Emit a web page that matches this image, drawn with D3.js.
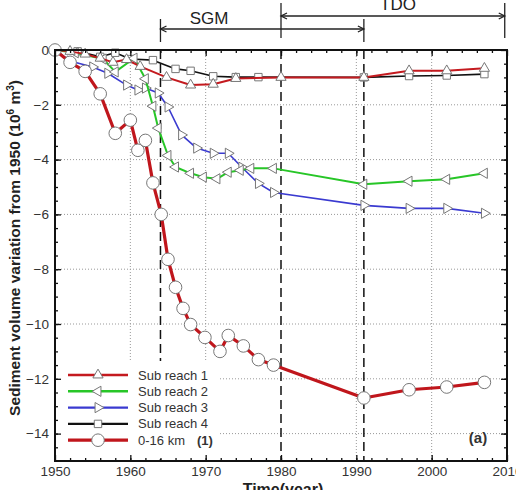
<!DOCTYPE html>
<html>
<head>
<meta charset="utf-8">
<script src="https://cdn.jsdelivr.net/npm/d3@7"></script>
<style>
  body { margin: 0; background: #fff; }
  svg { font-family: "Liberation Sans", Arial, sans-serif; }
</style>
</head>
<body>
<div id="chart"></div>
<script>
// data: [year, volume change (10^6 m3)]
const subReach1 = [[1950,0],[1952,-0.05],[1954,-0.15],[1956,-0.3],[1957.7,-0.45],[1959.5,-0.35],[1961.3,-0.6],[1964.8,-1.0],[1968,-1.28],[1971,-1.25],[1974,-1.04],[1980,-1.0],[1991,-1.0],[1997,-0.76],[2002,-0.76],[2007,-0.67]];
const subReach2 = [[1950,0],[1952.7,-0.1],[1956.4,-0.33],[1958,-0.8],[1960.5,-0.3],[1962,-1.05],[1963,-2.05],[1963.7,-2.85],[1965,-3.85],[1966,-4.27],[1968,-4.5],[1969.7,-4.64],[1971.5,-4.7],[1973,-4.46],[1974.6,-4.39],[1976,-4.32],[1979,-4.32],[1991,-4.9],[1997,-4.79],[2002,-4.72],[2007,-4.5]];
const subReach3 = [[1950,0],[1952,-0.4],[1955,-0.62],[1957,-0.85],[1959.5,-1.28],[1961,-1.46],[1962,-1.39],[1963.7,-1.57],[1965,-2.08],[1966.8,-3.1],[1968.8,-3.58],[1971,-3.77],[1973,-3.77],[1974.8,-4.28],[1977,-4.87],[1979,-5.2],[1991,-5.67],[1997,-5.78],[2002,-5.78],[2007,-5.96]];
const subReach4 = [[1950,0],[1953,-0.05],[1956,-0.25],[1958,-0.1],[1960,-0.33],[1963,-0.37],[1966,-0.69],[1968,-0.76],[1971,-0.96],[1974,-0.99],[1977,-0.99],[1991,-1.0],[1997,-0.95],[2002,-0.93],[2007,-0.88]];
const km0to16 = [[1950,0],[1952,-0.45],[1954,-0.78],[1956,-1.6],[1958,-3.04],[1960,-2.56],[1961,-3.66],[1962,-3.3],[1963,-4.85],[1964.1,-6.0],[1965,-7.64],[1966,-8.66],[1967,-9.43],[1968,-10.02],[1969.9,-10.49],[1971.9,-11.0],[1973,-10.42],[1975,-10.8],[1977,-11.3],[1979,-11.5],[1991,-12.7],[1997,-12.4],[2002,-12.3],[2007,-12.13]];

const seriesNames = ["Sub reach 1", "Sub reach 2", "Sub reach 3", "Sub reach 4", "0-16 km"];
const xTicks = [1950, 1960, 1970, 1980, 1990, 2000, 2010];
const yTicks = [0, -2, -4, -6, -8, -10, -12, -14];
const periodLines = [1964, 1980, 1991];

const margin = { top: 50, left: 55, right: 9, bottom: 29 };
const width = 516, height = 490;

const svg = d3.select("#chart").append("svg")
  .attr("width", width).attr("height", height);

const x = d3.scaleLinear().domain([1950, 2010]).range([margin.left, width - margin.right]);
const y = d3.scaleLinear().domain([-15, 0]).range([height - margin.bottom, margin.top]);

// gridlines (dotted)
const grid = svg.append("g");
grid.selectAll("line.gx")
  .data(xTicks.filter(d => d > 1950 && d < 2010 && d !== 1980))
  .join("line")
  .attr("x1", d => x(d)).attr("x2", d => x(d))
  .attr("y1", y(0)).attr("y2", y(-15))
  .attr("stroke", "#999").attr("stroke-dasharray", "1,2");
grid.selectAll("line.gy")
  .data(yTicks.filter(d => d < 0))
  .join("line")
  .attr("x1", x(1950)).attr("x2", x(2010))
  .attr("y1", d => y(d)).attr("y2", d => y(d))
  .attr("stroke", "#999").attr("stroke-dasharray", "1,2");

// dashed period lines
svg.selectAll("line.period")
  .data(periodLines)
  .join("line")
  .attr("x1", d => x(d)).attr("x2", d => x(d))
  .attr("y1", y(0)).attr("y2", y(-15))
  .attr("stroke", "#111").attr("stroke-width", 1.5)
  .attr("stroke-dasharray", "9,5");

// SGM / TDO annotations
const ann = svg.append("g").attr("stroke", "#222").attr("stroke-width", 1.3);
function span(x1, x2, yy, top, bot) {
  ann.append("line").attr("x1", x1).attr("x2", x2).attr("y1", yy).attr("y2", yy);
  ann.append("line").attr("x1", x1).attr("x2", x1).attr("y1", top).attr("y2", bot);
  ann.append("line").attr("x1", x2).attr("x2", x2).attr("y1", top).attr("y2", bot);
  ann.append("path").attr("d", `M${x1 + 6},${yy - 3} L${x1},${yy} L${x1 + 6},${yy + 3}`).attr("fill", "none");
  ann.append("path").attr("d", `M${x2 - 6},${yy - 3} L${x2},${yy} L${x2 - 6},${yy + 3}`).attr("fill", "none");
}
span(x(1964), x(1991), 29, 19, 42);
span(x(1980), x(2009.7), 16, 3, 38);
svg.append("text").attr("x", 209).attr("y", 24)
  .attr("text-anchor", "middle").attr("font-size", 17).attr("fill", "#222").text("SGM");
svg.append("text").attr("x", 398).attr("y", 10)
  .attr("text-anchor", "middle").attr("font-size", 17).attr("fill", "#222").text("TDO");

// series
const styles = [
  { data: subReach1, color: "#c41a1f", w: 2, sym: "up" },
  { data: subReach2, color: "#27c627", w: 2, sym: "left" },
  { data: subReach3, color: "#3a3ad0", w: 1.6, sym: "right" },
  { data: subReach4, color: "#111", w: 1.6, sym: "square" },
  { data: km0to16, color: "#c0161c", w: 3.2, sym: "circle" }
];

function marker(g, sym) {
  if (sym === "circle") {
    return g.append("circle").attr("r", 6.3);
  }
  if (sym === "square") {
    return g.append("path").attr("d", d3.symbol(d3.symbolSquare, 55)());
  }
  const rot = sym === "up" ? 0 : sym === "left" ? -90 : 90;
  return g.append("path").attr("d", d3.symbol(d3.symbolTriangle, 45)())
    .attr("transform", `rotate(${rot})`);
}

const line = d3.line().x(d => x(d[0])).y(d => y(d[1]));
const drawOrder = [3, 2, 1, 0, 4];
drawOrder.forEach(i => {
  const s = styles[i];
  svg.append("path").datum(s.data)
    .attr("d", line).attr("fill", "none")
    .attr("stroke", s.color).attr("stroke-width", s.w)
    .attr("stroke-linejoin", "round");
  svg.append("g").selectAll("g")
    .data(s.data)
    .join("g")
    .attr("transform", d => `translate(${x(d[0])},${y(d[1])})`)
    .each(function () {
      marker(d3.select(this), s.sym)
        .attr("fill", "#fff").attr("stroke", "#777").attr("stroke-width", 1);
    });
});

// legend
const legend = svg.append("g");
legend.append("rect").attr("x", 57).attr("y", 361).attr("width", 161).attr("height", 98).attr("fill", "#fff");
seriesNames.forEach((name, i) => {
  const s = styles[i];
  const ly = 375 + i * 16.3;
  legend.append("line").attr("x1", 68).attr("x2", 128).attr("y1", ly).attr("y2", ly)
    .attr("stroke", s.color).attr("stroke-width", i === 4 ? 3.2 : s.w + 0.6);
  const g = legend.append("g").attr("transform", `translate(98,${ly})`);
  marker(g, s.sym).attr("fill", "#fff").attr("stroke", "#777").attr("stroke-width", 1);
  legend.append("text").attr("x", 138).attr("y", ly + 4.5)
    .attr("font-size", 13).attr("fill", "#333").text(name);
});
legend.append("text").attr("x", 197).attr("y", 444.5).attr("font-size", 13)
  .attr("font-weight", "bold").attr("fill", "#333").text("(1)");
svg.append("text").attr("x", 478).attr("y", 443).attr("text-anchor", "middle")
  .attr("font-size", 15).attr("font-weight", "bold").attr("fill", "#333").text("(a)");

// axes (inward ticks on all four sides)
const xMinor = d3.range(1952, 2010, 2);
const yMinor = d3.range(-14.5, 0, 0.5);
svg.append("g").attr("transform", `translate(0,${y(-15)})`)
  .call(d3.axisBottom(x).tickValues(xMinor).tickSize(-3).tickFormat(""));
svg.append("g").attr("transform", `translate(0,${y(-15)})`)
  .call(d3.axisBottom(x).tickValues(xTicks).tickSize(-6).tickPadding(5).tickFormat(d3.format("d")));
svg.append("g").attr("transform", `translate(0,${y(0)})`)
  .call(d3.axisTop(x).tickValues(xMinor).tickSize(-3).tickFormat(""));
svg.append("g").attr("transform", `translate(0,${y(0)})`)
  .call(d3.axisTop(x).tickValues(xTicks).tickSize(-6).tickFormat(""));
svg.append("g").attr("transform", `translate(${x(1950)},0)`)
  .call(d3.axisLeft(y).tickValues(yMinor).tickSize(-3).tickFormat(""));
svg.append("g").attr("transform", `translate(${x(1950)},0)`)
  .call(d3.axisLeft(y).tickValues(yTicks).tickSize(-6).tickPadding(6).tickFormat(d3.format("d")));
svg.append("g").attr("transform", `translate(${x(2010)},0)`)
  .call(d3.axisRight(y).tickValues(yMinor).tickSize(-3).tickFormat(""));
svg.append("g").attr("transform", `translate(${x(2010)},0)`)
  .call(d3.axisRight(y).tickValues(yTicks).tickSize(-6).tickFormat(""));
svg.selectAll(".domain").remove();
svg.selectAll(".tick line").attr("stroke", "#111").attr("stroke-width", 1.3);
svg.selectAll(".tick text").attr("font-size", 13.5).attr("fill", "#333")
  .style("font-family", "'Liberation Sans', Arial, sans-serif");

// frame
svg.append("rect")
  .attr("x", x(1950)).attr("y", y(0))
  .attr("width", x(2010) - x(1950)).attr("height", y(-15) - y(0))
  .attr("fill", "none").attr("stroke", "#111").attr("stroke-width", 2);

// axis titles
svg.append("text").attr("x", 283).attr("y", 495).attr("text-anchor", "middle")
  .attr("font-size", 16).attr("font-weight", "bold").attr("fill", "#222").text("Time(year)");
const yl = svg.append("text").attr("transform", "translate(20,248) rotate(-90)")
  .attr("text-anchor", "middle").attr("font-size", 15.5).attr("font-weight", "bold").attr("fill", "#222");
yl.append("tspan").text("Sediment volume variation from 1950 (10");
yl.append("tspan").attr("font-size", 10).attr("dy", -6).text("6");
yl.append("tspan").attr("dy", 6).text(" m");
yl.append("tspan").attr("font-size", 10).attr("dy", -6).text("3");
yl.append("tspan").attr("dy", 6).text(")");
</script>
</body>
</html>
